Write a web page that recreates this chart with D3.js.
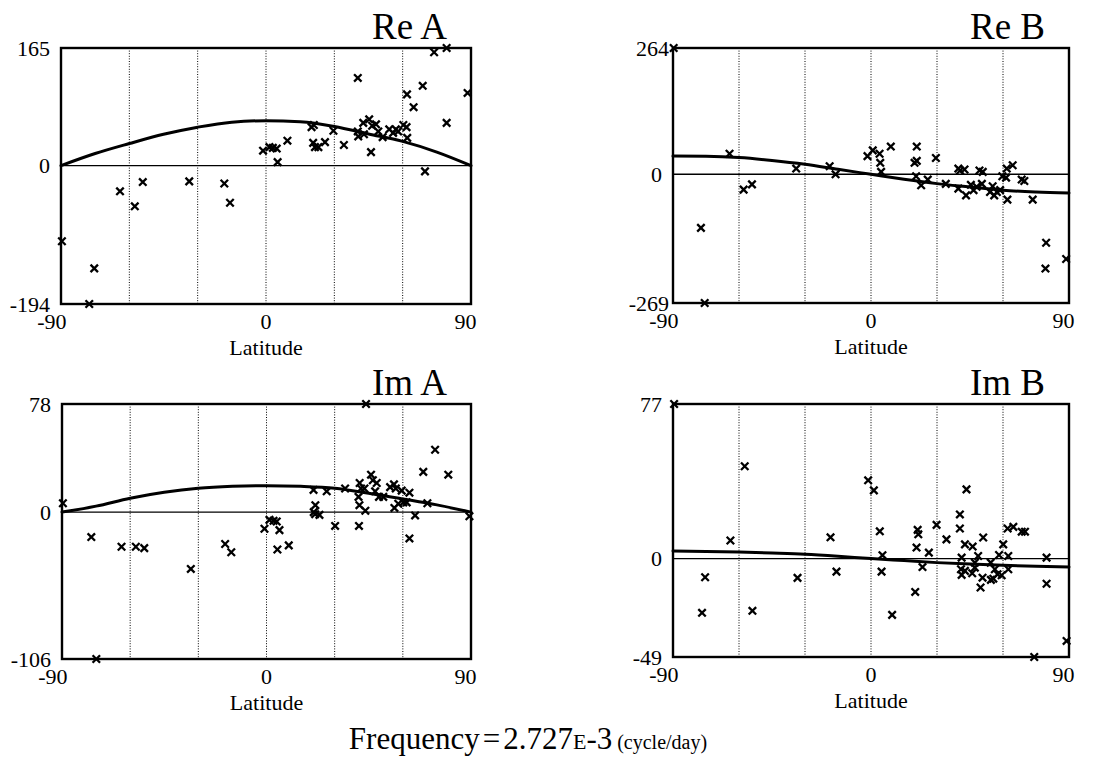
<!DOCTYPE html>
<html>
<head>
<meta charset="utf-8">
<script src="https://cdn.jsdelivr.net/npm/d3@7"></script>
<style>
  body { margin: 0; background: #fff; }
  svg { display: block; }
  text { font-family: "Liberation Serif", "Times New Roman", Times, serif; fill: #000; }
</style>
</head>
<body>
<svg id="chart" width="1102" height="760"></svg>
<script>
// Shared latitude settings
const latTicks = [-90, 0, 90];
const gridLats = [-60, -30, 0, 30, 60];
const curveLats = [-90, -75, -60, -45, -30, -15, 0, 15, 30, 45, 60, 75, 90];

// Re A: station values [latitude, value] and fitted curve
const reAPoints = [[-89.6,-106],[-77.6,-194],[-75.4,-144],[-64.1,-36],[-57.6,-57],[-54.1,-23],[-33.7,-22],[-18.3,-25],[-15.8,-52],[-1.3,21],[1.5,26],[3.0,25],[4.7,24],[5.1,5],[9.4,35],[20.0,54],[21.0,57],[20.7,32],[21.5,26],[23.0,26],[25.9,33],[29.6,49],[34.2,29],[40.3,123],[40.3,48],[40.5,41],[42.7,60],[43.0,44],[45.3,65],[46.1,19],[46.6,56],[48.3,58],[49.3,48],[51.2,40],[54.1,51],[55.8,46],[57.0,51],[58.0,48],[60.3,57],[61.7,54],[62.0,39],[61.9,100],[64.8,82],[68.8,112],[69.8,-8],[73.8,159],[79.3,165],[79.3,60],[88.5,102]];
const reACurve = [0, 17, 31, 44, 54, 61, 63, 61.5, 55, 44.5, 34, 19, 0];
const reAExtent = [-194, 165];

// Re B
const reBPoints = [[-89.7,264],[-77.3,-112],[-75.6,-269],[-64.3,43],[-57.9,-32],[-54.1,-21],[-34.0,12],[-18.8,17],[-16.1,0],[-1.6,38],[0.8,50],[3.9,43],[4.2,24],[4.6,5],[9.0,58],[19.8,24],[20.8,58],[20.8,28],[20.5,-4],[22.8,-23],[25.8,-11],[29.5,34],[34.0,-20],[39.7,12],[40.5,8],[42.5,10],[39.7,-30],[43.2,-44],[45.4,-22],[46.6,-33],[48.0,-26],[49.3,8],[50.8,5],[50.4,-20],[54.1,-37],[55.3,-25],[56.0,-44],[57.2,-37],[58.7,-33],[59.7,-4],[61.4,-7],[61.7,12],[62.0,-53],[64.4,19],[68.5,-11],[69.7,-14],[73.5,-53],[79.6,-143],[79.3,-197],[88.7,-177]];
const reBCurve = [38, 37.6, 35, 29, 21, 10.4, 0, -10.4, -19.5, -26.5, -33.4, -37, -39];
const reBExtent = [-269, 264];

// Im A
const imAPoints = [[-89.6,6.4],[-77.1,-18],[-74.9,-106],[-63.8,-25],[-57.5,-25],[-53.8,-26],[-33.3,-41],[-18.2,-23],[-15.5,-29],[-0.9,-12],[1.3,-5.6],[3.1,-6.3],[4.5,-6.8],[5.7,-13],[4.8,-27],[9.8,-24],[20.7,16],[21.5,5],[20.8,0],[21.4,-1.5],[23.3,-2],[26.5,15],[30.2,-10],[34.6,17],[41.0,21],[41.6,17],[40.5,11],[40.9,5],[40.7,-10],[43.1,17],[43.5,1],[43.8,78],[46.0,27],[46.8,23],[48.5,21],[47.8,15],[49.5,11],[51.4,11],[54.4,18],[56.1,20],[56.9,17],[56.3,3],[58.0,6],[59.5,15.5],[60.2,7],[61.7,7],[62.9,14],[62.9,-19],[65.4,-2.4],[69.0,29],[70.8,6.4],[74.2,45],[80.0,27],[89.3,-3]];
const imACurve = [0, 4.3, 10, 14.3, 17.2, 18.6, 19.1, 18.6, 17.2, 13.6, 9.5, 5.2, 0];
const imAExtent = [-106, 78];

// Im B
const imBPoints = [[-89.5,77],[-76.8,-27],[-75.4,-9.3],[-63.9,9],[-57.4,46],[-53.9,-26],[-33.4,-9.6],[-18.4,10.6],[-15.7,-6.5],[-1.3,39],[1.3,34],[4.0,13.6],[5.2,1.7],[4.8,-6.5],[9.6,-28],[20.1,-16.6],[20.7,5.5],[21.2,14.3],[21.5,12.1],[23.4,-4.2],[26.3,3],[29.8,16.8],[34.3,9.6],[40.4,22],[40.4,15],[41.2,0.5],[40.9,-5.3],[41.2,-8.1],[42.7,7.1],[42.7,-6.1],[43.4,34.5],[46.0,-7.3],[46.2,6],[47.2,-2],[47.2,-4.5],[48.7,1.3],[49.8,-14.4],[51.0,10.5],[50.7,-9.5],[54.4,-2],[54.5,-10.6],[55.6,-10],[56.3,-5.3],[57.5,-7.8],[58.2,1.8],[59.4,-8.3],[60.1,7.1],[62.1,15],[62.4,1.3],[62.4,-5.3],[64.7,15.8],[68.5,13.4],[70.0,13.4],[74.2,-49],[79.8,0.5],[79.8,-12.5],[88.9,-41]];
const imBCurve = [3.8, 3.6, 3.3, 2.8, 2.2, 1.2, 0, -1, -2, -2.7, -3.3, -3.8, -4.2];
const imBExtent = [-49, 77];

// Panel layout
const panels = [
  { title: "Re A", points: reAPoints, curve: reACurve, extent: reAExtent, x0: 61,  x1: 471,  y0: 48,  y1: 304, endGap: 11 },
  { title: "Re B", points: reBPoints, curve: reBCurve, extent: reBExtent, x0: 673, x1: 1069, y0: 48,  y1: 303, endGap: 4 },
  { title: "Im A", points: imAPoints, curve: imACurve, extent: imAExtent, x0: 62,  x1: 471,  y0: 404, y1: 659, endGap: 11 },
  { title: "Im B", points: imBPoints, curve: imBCurve, extent: imBExtent, x0: 673, x1: 1069, y0: 404, y1: 657, endGap: 11 }
];

const svg = d3.select("#chart");
const cross = d3.symbol().type(d3.symbolTimes).size(38);
const serif = '"Liberation Serif", "Times New Roman", serif';

panels.forEach(p => {
  const x = d3.scaleLinear().domain([-90, 90]).range([p.x0, p.x1]);
  const y = d3.scaleLinear().domain(p.extent).range([p.y1, p.y0]);
  const g = svg.append("g");

  // dotted latitude grid
  g.selectAll("line.grid").data(gridLats).join("line")
    .attr("class", "grid")
    .attr("x1", d => x(d)).attr("x2", d => x(d))
    .attr("y1", p.y0).attr("y2", p.y1)
    .attr("stroke", "#000").attr("stroke-width", 1)
    .attr("stroke-dasharray", "1,1.6");

  // zero reference line
  g.append("line")
    .attr("x1", p.x0).attr("x2", p.x1)
    .attr("y1", y(0)).attr("y2", y(0))
    .attr("stroke", "#000").attr("stroke-width", 1.4);

  // fitted curve
  const line = d3.line()
    .x((d, i) => x(curveLats[i]))
    .y(d => y(d))
    .curve(d3.curveMonotoneX);
  g.append("path")
    .datum(p.curve)
    .attr("d", line)
    .attr("fill", "none")
    .attr("stroke", "#000")
    .attr("stroke-width", 3)
    .attr("stroke-linecap", "round");

  // frame
  g.append("rect")
    .attr("x", p.x0).attr("y", p.y0)
    .attr("width", p.x1 - p.x0).attr("height", p.y1 - p.y0)
    .attr("fill", "none").attr("stroke", "#000").attr("stroke-width", 2.4);

  // station markers
  g.selectAll("path.pt").data(p.points).join("path")
    .attr("class", "pt")
    .attr("d", cross)
    .attr("transform", d => `translate(${x(d[0])},${y(d[1])})`)
    .attr("fill", "none")
    .attr("stroke", "#000")
    .attr("stroke-width", 2.3);

  // y axis labels: min, 0, max
  const yAxis = d3.axisLeft(y)
    .tickValues([p.extent[0], 0, p.extent[1]])
    .tickSize(0)
    .tickFormat(d => String(d));
  const ya = g.append("g").attr("transform", `translate(${p.x0},0)`).call(yAxis);
  ya.select(".domain").remove();
  ya.selectAll("text")
    .attr("x", d => d === 0 ? -11 : -p.endGap)
    .attr("dy", "0.33em")
    .style("font-family", serif)
    .style("font-size", "22px")
    .attr("fill", "#000");

  // x axis labels
  const xAxis = d3.axisBottom(x)
    .tickValues(latTicks)
    .tickSize(0)
    .tickFormat(d => String(d));
  const xa = g.append("g").attr("transform", `translate(0,${p.y1})`).call(xAxis);
  xa.select(".domain").remove();
  xa.selectAll("text")
    .attr("text-anchor", "end")
    .attr("x", 5)
    .attr("y", 25)
    .attr("dy", 0)
    .style("font-family", serif)
    .style("font-size", "22px")
    .attr("fill", "#000");

  // axis title
  g.append("text")
    .attr("x", (p.x0 + p.x1) / 2)
    .attr("y", p.y1 + 51)
    .attr("text-anchor", "middle")
    .style("font-size", "22px")
    .text("Latitude");

  // panel title
  g.append("text")
    .attr("x", p.x1 - 24)
    .attr("y", p.y0 - 9)
    .attr("text-anchor", "end")
    .style("font-size", "37px")
    .text(p.title);
});

// frequency caption
const cap = svg.append("text")
  .attr("x", 528)
  .attr("y", 749)
  .attr("text-anchor", "middle")
  .style("font-size", "31px");
cap.append("tspan").text("Frequency");
cap.append("tspan").attr("dx", 3).text("=");
cap.append("tspan").attr("dx", 3).text("2.727");
cap.append("tspan").style("font-size", "22px").text("E");
cap.append("tspan").text("-3");
cap.append("tspan").style("font-size", "20px").text(" (cycle/day)");
</script>
</body>
</html>
